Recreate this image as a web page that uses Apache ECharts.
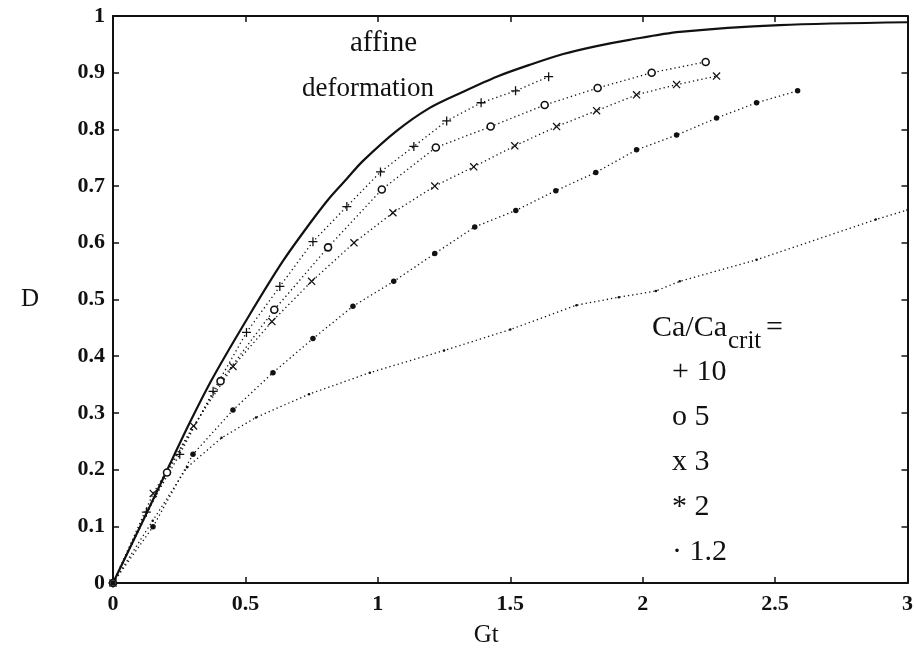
<!DOCTYPE html>
<html>
<head>
<meta charset="utf-8">
<script src="https://cdn.jsdelivr.net/npm/echarts@6/dist/echarts.min.js"></script>
<style>
html,body{margin:0;padding:0;background:#fff;}
#chart{width:916px;height:653px;}
</style>
</head>
<body>
<div id="chart"></div>
<script>
// ---- data ----
const xTicks = [0, 0.5, 1, 1.5, 2, 2.5, 3];
const yTicks = [0, 0.1, 0.2, 0.3, 0.4, 0.5, 0.6, 0.7, 0.8, 0.9, 1];

const affine = [[0,0],[0.1,0.097],[0.2,0.195],[0.29,0.283],[0.377,0.362],[0.517,0.474],
  [0.642,0.568],[0.743,0.634],[0.819,0.68],[0.883,0.713],[0.943,0.744],[1.07,0.797],[1.196,0.838],
  [1.32,0.866],[1.449,0.893],[1.574,0.914],[1.70,0.933],[1.826,0.947],[1.95,0.958],[2.14,0.972],
  [2.517,0.984],[3.0,0.989]];

const ca10 = [[0,0],[0.126,0.125],[0.252,0.227],[0.378,0.338],[0.504,0.442],[0.63,0.523],[0.755,0.602],
  [0.883,0.664],[1.01,0.725],[1.136,0.77],[1.26,0.815],[1.39,0.847],[1.52,0.868],[1.645,0.893]];

const ca5 = [[0,0],[0.204,0.195],[0.406,0.356],[0.609,0.482],[0.812,0.592],[1.015,0.694],[1.219,0.768],
  [1.426,0.805],[1.63,0.843],[1.83,0.873],[2.034,0.900],[2.238,0.919]];

const ca3 = [[0,0],[0.152,0.158],[0.304,0.277],[0.453,0.382],[0.60,0.461],[0.75,0.532],[0.91,0.600],
  [1.057,0.653],[1.215,0.70],[1.362,0.734],[1.517,0.771],[1.675,0.805],[1.826,0.833],[1.977,0.861],
  [2.128,0.879],[2.279,0.894]];

const ca2 = [[0,0],[0.151,0.099],[0.302,0.227],[0.453,0.305],[0.604,0.371],[0.755,0.431],[0.906,0.488],
  [1.06,0.532],[1.215,0.581],[1.366,0.628],[1.521,0.657],[1.672,0.692],[1.823,0.724],[1.977,0.764],
  [2.128,0.790],[2.279,0.820],[2.43,0.847],[2.585,0.868]];

const ca12 = [[0,0],[0.15,0.11],[0.28,0.204],[0.41,0.256],[0.54,0.292],[0.74,0.333],[0.97,0.371],
  [1.25,0.41],[1.5,0.447],[1.75,0.49],[1.91,0.504],[2.05,0.515],[2.14,0.532],[2.43,0.57],
  [2.88,0.641],[3,0.658]];

const legendTitle = ['Ca/Ca', 'crit', '='];
const legendRows = ['+ 10', 'o 5', 'x 3', '* 2', '\u00b7 1.2'];
const annotation = ['affine', 'deformation'];

// ---- chart ----
const FONT = '"Liberation Serif", "DejaVu Serif", serif';
const INK = '#111';
const chart = echarts.init(document.getElementById('chart'));

const plusPath = 'path://M4.3,0h1.4v10h-1.4zM0,4.3h10v1.4h-10z';
const crossPath = 'path://M0,1.1L1.1,0L10,8.9L8.9,10ZM8.9,0L10,1.1L1.1,10L0,8.9Z';

function dotted(name, data, symbol, size, extra) {
  return Object.assign({
    name: name, type: 'line', data: data, symbol: symbol, symbolSize: size,
    showAllSymbol: true, silent: true, animation: false,
    lineStyle: {color: INK, width: 1.3, type: [1.3, 3]},
    itemStyle: {color: INK, borderColor: INK, borderWidth: 0}
  }, extra || {});
}

const fmt = v => String(+v.toFixed(2));
const boxLine = {show: true, onZero: false, lineStyle: {color: INK, width: 2}};
const tick = {show: true, inside: true, length: 6, lineStyle: {color: INK, width: 1.5}};

const option = {
  backgroundColor: '#fff',
  animation: false,
  grid: {left: 113, right: 8, top: 16, bottom: 69},
  xAxis: [{
    type: 'value', min: 0, max: 3, interval: 0.5,
    name: 'Gt', nameLocation: 'middle', nameGap: 40,
    nameTextStyle: {fontFamily: FONT, fontSize: 25, color: INK, padding: [0, 48, 0, 0]},
    axisLine: boxLine, axisTick: tick,
    axisLabel: {fontFamily: FONT, fontSize: 22, fontWeight: 'bold', color: INK, margin: 10, formatter: fmt},
    splitLine: {show: false}
  }, {
    type: 'value', min: 0, max: 3, interval: 0.5, position: 'top',
    axisLine: boxLine, axisTick: tick,
    axisLabel: {show: false}, splitLine: {show: false}
  }],
  yAxis: [{
    type: 'value', min: 0, max: 1, interval: 0.1,
    name: 'D', nameLocation: 'middle', nameGap: 74, nameRotate: 0,
    nameTextStyle: {fontFamily: FONT, fontSize: 25, color: INK},
    axisLine: boxLine, axisTick: tick,
    axisLabel: {fontFamily: FONT, fontSize: 22, fontWeight: 'bold', color: INK, margin: 8, formatter: fmt},
    splitLine: {show: false}
  }, {
    type: 'value', min: 0, max: 1, interval: 0.1, position: 'right',
    axisLine: boxLine, axisTick: tick,
    axisLabel: {show: false}, splitLine: {show: false}
  }],
  series: [
    {name: 'affine', type: 'line', data: affine, symbol: 'none', smooth: 0.3, silent: true,
     lineStyle: {color: INK, width: 2.2}},
    dotted('10', ca10, plusPath, 9),
    dotted('5', ca5, 'circle', 7, {itemStyle: {color: '#fff', borderColor: INK, borderWidth: 1.6}}),
    dotted('3', ca3, crossPath, 8),
    dotted('2', ca2, 'circle', 5.5),
    dotted('1.2', ca12, 'circle', 2.5)
  ],
  graphic: [
    {type: 'text', left: 350, top: 29, style: {text: annotation[0], font: '29px ' + FONT, fill: INK}},
    {type: 'text', left: 302, top: 75, style: {text: annotation[1], font: '27px ' + FONT, fill: INK}},
    {type: 'text', left: 652, top: 313, style: {text: legendTitle[0], font: '30px ' + FONT, fill: INK}},
    {type: 'text', left: 728, top: 329, style: {text: legendTitle[1], font: '25px ' + FONT, fill: INK}},
    {type: 'text', left: 766, top: 313, style: {text: legendTitle[2], font: '30px ' + FONT, fill: INK}}
  ].concat(legendRows.map((t, i) => ({
    type: 'text', left: 672, top: 357 + i * 45, style: {text: t, font: '30px ' + FONT, fill: INK}
  })))
};
chart.setOption(option);
</script>
</body>
</html>
